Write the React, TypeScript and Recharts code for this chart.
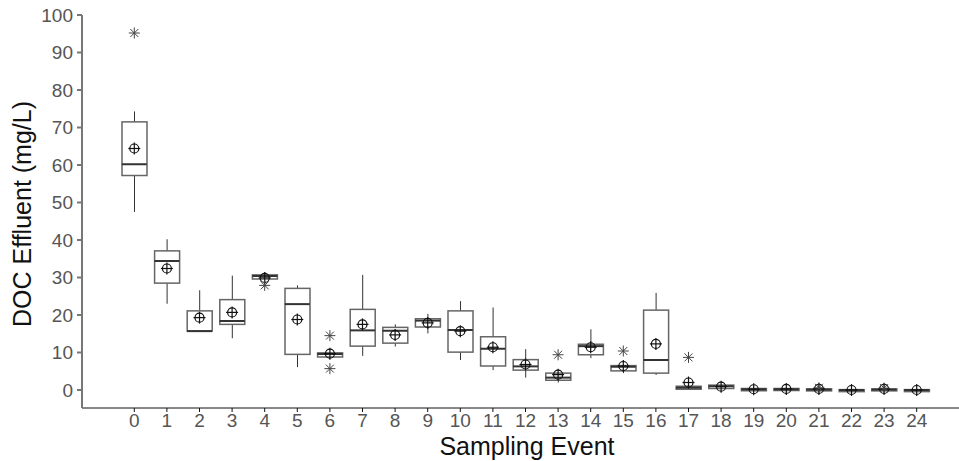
import { ComposedChart, Bar, Scatter, XAxis, YAxis } from 'recharts';

// sampling events 0..24
const events = ['0', '1', '2', '3', '4', '5', '6', '7', '8', '9', '10', '11', '12', '13', '14', '15', '16', '17', '18', '19', '20', '21', '22', '23', '24'];

// box statistics (mg/L)
const whiskerLow = [47.5, 23.0, 15.7, 13.8, 29.6, 6.1, 8.8, 9.1, 11.6, 15.1, 8.0, 5.3, 3.3, 2.0, 8.5, 4.5, 4.0, 0.2, 0.3, -0.3, 0.0, 0.0, -0.1, 0.0, -0.1];
const q1 = [57.2, 28.5, 15.7, 17.5, 29.6, 9.5, 8.8, 11.7, 12.5, 16.8, 10.1, 6.4, 5.3, 2.6, 9.4, 5.1, 4.5, 0.2, 0.4, -0.2, 0.0, -0.1, -0.1, -0.1, -0.1];
const median = [60.2, 34.4, 15.7, 18.4, 30.4, 22.9, 9.6, 15.9, 15.8, 18.5, 16.0, 11.0, 6.3, 3.3, 11.7, 6.2, 8.0, 0.6, 1.0, 0.2, 0.2, 0.1, 0.0, 0.1, 0.0];
const q3 = [71.5, 37.1, 21.1, 24.1, 30.7, 27.1, 9.9, 21.5, 16.7, 19.0, 21.1, 14.2, 8.1, 4.5, 12.2, 6.5, 21.3, 1.0, 1.3, 0.4, 0.4, 0.3, 0.1, 0.3, 0.1];
const whiskerHigh = [74.3, 40.2, 26.6, 30.5, 31.3, 27.9, 9.9, 30.7, 17.5, 20.3, 23.7, 22.0, 10.9, 4.5, 16.2, 6.5, 25.9, 1.0, 1.3, 0.4, 0.4, 0.3, 0.1, 0.3, 0.1];
const means = [64.4, 32.4, 19.3, 20.7, 29.9, 18.8, 9.7, 17.5, 14.7, 17.9, 15.7, 11.4, 6.8, 4.1, 11.4, 6.4, 12.3, 2.0, 0.9, 0.2, 0.3, 0.3, 0.0, 0.3, 0.0];
// outliers (null = none)
const outlierA = [95.2, null, null, null, 27.9, null, 14.5, null, null, null, null, null, null, 9.4, null, 10.4, null, 8.7, null, null, null, 0.6, null, 0.5, null];
const outlierB = [null, null, null, null, null, null, 5.7, null, null, null, null, null, null, null, null, null, null, null, null, null, null, null, null, null, null];

const yTicks = [0, 10, 20, 30, 40, 50, 60, 70, 80, 90, 100];

const data = events.map((e, i) => ({
  event: e,
  whisker: [whiskerLow[i], whiskerHigh[i]],
  box: [q1[i], q3[i]],
  median: median[i],
  mean: means[i],
  outA: outlierA[i],
  outB: outlierB[i],
}));

const BOX_W = 25;

const WhiskerShape = (props: any) => {
  const { x, y, width, height } = props;
  if (x == null || isNaN(y)) return null;
  const cx = x + width / 2;
  return <line x1={cx} x2={cx} y1={y} y2={y + height} stroke="#333" strokeWidth={1} />;
};

const BoxShape = (props: any) => {
  const { x, y, width, height } = props;
  if (x == null || isNaN(y)) return null;
  const h = Math.max(Math.abs(height), 2);
  const top = height >= 0 ? y : y + height;
  return <rect x={x} y={top} width={width} height={h} fill="#fff" stroke="#666" strokeWidth={1.5} />;
};

const MedianShape = (props: any) => {
  const { cx, cy } = props;
  if (cx == null || cy == null || isNaN(cy)) return null;
  return <line x1={cx - BOX_W / 2} x2={cx + BOX_W / 2} y1={cy} y2={cy} stroke="#333" strokeWidth={2} />;
};

const MeanShape = (props: any) => {
  const { cx, cy } = props;
  if (cx == null || cy == null || isNaN(cy)) return null;
  return (
    <g stroke="#111" strokeWidth={1.2} fill="none">
      <circle cx={cx} cy={cy} r={4.5} />
      <line x1={cx - 6} x2={cx + 6} y1={cy} y2={cy} />
      <line x1={cx} x2={cx} y1={cy - 6} y2={cy + 6} />
    </g>
  );
};

const StarShape = (props: any) => {
  const { cx, cy, payload, dk } = props;
  if (cx == null || cy == null || isNaN(cy) || payload[dk] == null) return null;
  const r = 5.5;
  const d = r * 0.72;
  return (
    <g stroke="#444" strokeWidth={1}>
      <line x1={cx - r} x2={cx + r} y1={cy} y2={cy} />
      <line x1={cx} x2={cx} y1={cy - r} y2={cy + r} />
      <line x1={cx - d} x2={cx + d} y1={cy - d} y2={cy + d} />
      <line x1={cx - d} x2={cx + d} y1={cy + d} y2={cy - d} />
    </g>
  );
};

const XTitle = () => (
  <text x={527} y={455} textAnchor="middle" fontSize={25} fill="#111">Sampling Event</text>
);

const YTitle = () => (
  <text x={31} y={214} transform="rotate(-90 31 214)" textAnchor="middle" fontSize={25} fill="#111">DOC Effluent (mg/L)</text>
);

export default function App() {
  if (typeof document !== 'undefined') document.body.style.margin = '0';

  return (
    <div style={{ width: 959, height: 461, background: '#fff', fontFamily: 'Arial, "Liberation Sans", sans-serif' }}>
      <ComposedChart
        width={959}
        height={461}
        data={data}
        margin={{ top: 15, right: 0, bottom: 0, left: 0 }}
        barSize={BOX_W}
        barGap={-BOX_W}
      >
        <XAxis
          dataKey="event"
          type="category"
          padding={{ left: 36, right: 26 }}
          height={53}
          stroke="#111"
          tickSize={4}
          tickMargin={2}
          tick={{ fill: '#555', fontSize: 19 }}
          interval={0}
          label={<XTitle />}
        />
        <YAxis
          type="number"
          domain={[-4.8, 100]}
          ticks={yTicks}
          width={82}
          stroke="#777"
          strokeWidth={2}
          tickSize={5}
          tickMargin={4}
          tick={{ fill: '#555', fontSize: 19 }}
          label={<YTitle />}
        />
        <Bar dataKey="whisker" shape={WhiskerShape} isAnimationActive={false} />
        <Bar dataKey="box" shape={BoxShape} isAnimationActive={false} />
        <Scatter dataKey="median" shape={MedianShape} isAnimationActive={false} />
        <Scatter dataKey="mean" shape={MeanShape} isAnimationActive={false} />
        <Scatter dataKey="outA" shape={(p: any) => <StarShape {...p} dk="outA" />} isAnimationActive={false} />
        <Scatter dataKey="outB" shape={(p: any) => <StarShape {...p} dk="outB" />} isAnimationActive={false} />
      </ComposedChart>
    </div>
  );
}
